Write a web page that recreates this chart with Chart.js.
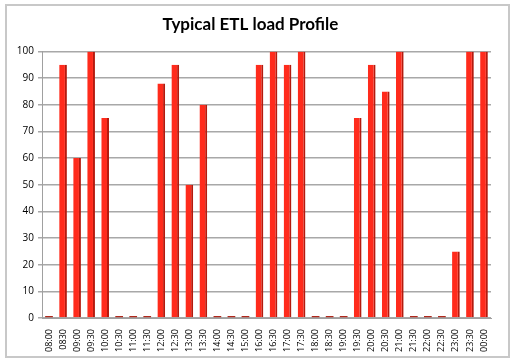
<!DOCTYPE html>
<html>
<head>
<meta charset="utf-8">
<script src="https://cdn.jsdelivr.net/npm/chart.js@4"></script>
<style>
  html, body { margin: 0; padding: 0; background: #fff; }
  #frame { position: absolute; left: 5px; top: 4px; width: 501px; height: 350px; border: 2px solid #c8c8c8; }
  #wrap { position: absolute; left: 0; top: 0; width: 516px; height: 362px; }
</style>
</head>
<body>
<div id="frame"></div>
<div id="wrap"><canvas id="loadChart"></canvas></div>
<script>
// Time slots (note: 15:30 is not in the source chart, and "0830" is written without colon)
const timeSlots = ['08:00', '0830', '09:00', '09:30', '10:00', '10:30', '11:00', '11:30', '12:00', '12:30',
                   '13:00', '13:30', '14:00', '14:30', '15:00', '16:00', '16:30', '17:00', '17:30', '18:00',
                   '18:30', '19:00', '19:30', '20:00', '20:30', '21:00', '21:30', '22:00', '22:30', '23:00',
                   '23:30', '00:00'];
const loadValues = [0, 95, 60, 100, 75, 0, 0, 0, 88, 95,
                    50, 80, 0, 0, 0, 95, 100, 95, 100, 0,
                    0, 0, 75, 95, 85, 100, 0, 0, 0, 25,
                    100, 100];
const yTicks = [0, 10, 20, 30, 40, 50, 60, 70, 80, 90, 100];

Chart.defaults.font.family = "'Open Sans', sans-serif";
Chart.defaults.color = '#000';

const ctx = document.getElementById('loadChart').getContext('2d');
new Chart(ctx, {
    type: 'bar',
    data: {
        labels: timeSlots,
        datasets: [{
            label: 'Load',
            data: loadValues,
            // empty slots show as a thin dark stub like the 3D base in the original
            backgroundColor: c => c.raw === 0 ? '#b0281c' : '#ff2b1c',
            borderColor: '#b51a0e',
            borderWidth: c => c.raw === 0 ? 0 : { top: 0, left: 0, bottom: 0, right: 2 },
            borderSkipped: false,
            minBarLength: 2,
            barPercentage: 0.55,
            categoryPercentage: 1.0
        }]
    },
    options: {
        responsive: true,
        maintainAspectRatio: false,
        animation: false,
        layout: { padding: { left: 10, right: 25, top: 6, bottom: 7 } },
        plugins: {
            legend: { display: false },
            tooltip: { enabled: false },
            title: {
                display: true,
                text: 'Typical ETL load Profile',
                color: '#000',
                font: { family: "'Lato', sans-serif", size: 17, weight: 'bold' },
                padding: { top: 8, bottom: 17 }
            }
        },
        scales: {
            x: {
                grid: { display: false },
                border: { color: '#a0a0a0' },
                ticks: { minRotation: 90, maxRotation: 90, autoSkip: false, font: { size: 9 }, padding: 3 }
            },
            y: {
                min: 0,
                max: 100,
                afterBuildTicks: scale => { scale.ticks = yTicks.map(v => ({ value: v })); },
                afterFit: scale => { scale.width = 32; },
                grid: { color: '#a8a8a8', lineWidth: 1.5, tickLength: 4 },
                border: { color: '#a0a0a0' },
                ticks: { font: { size: 10 }, padding: 4 }
            }
        }
    }
});
</script>
</body>
</html>
